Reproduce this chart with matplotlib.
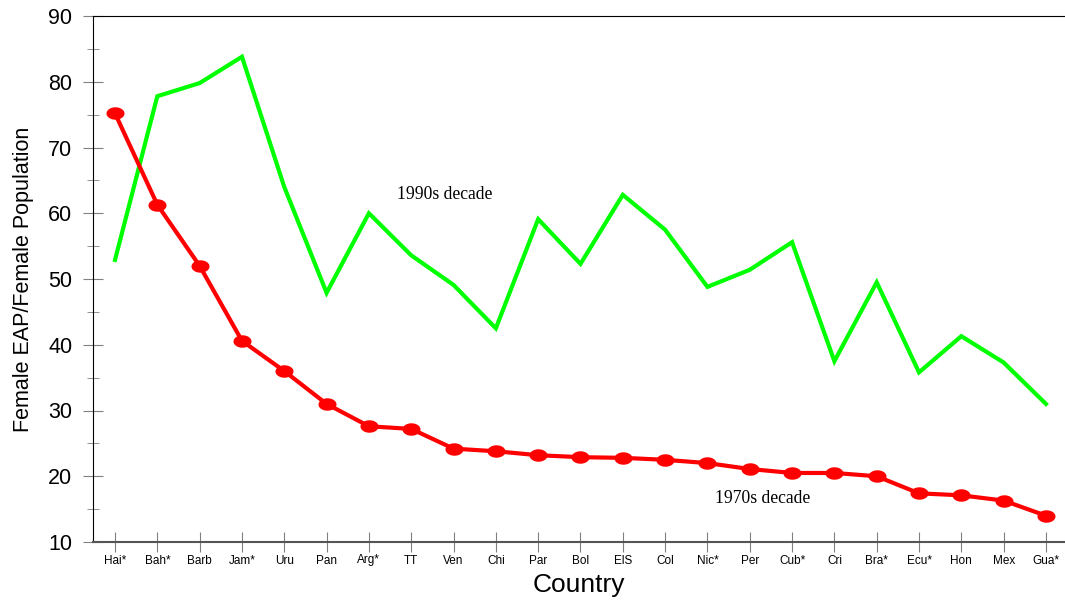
import numpy as np
import matplotlib
matplotlib.use("Agg")
import matplotlib.pyplot as plt
from matplotlib.path import Path
from matplotlib.ticker import MultipleLocator

countries = ["Hai*", "Bah*", "Barb", "Jam*", "Uru", "Pan", "Arg*", "TT", "Ven", "Chi",
             "Par", "Bol", "ElS", "Col", "Nic*", "Per", "Cub*", "Cri", "Bra*", "Ecu*",
             "Hon", "Mex", "Gua*"]
decade_1970s = [75.2, 61.3, 52.0, 40.6, 36.0, 31.0, 27.6, 27.2, 24.2, 23.8,
                23.2, 22.9, 22.8, 22.5, 22.0, 21.1, 20.5, 20.5, 20.0, 17.4,
                17.1, 16.3, 14.0]
decade_1990s = [52.9, 77.8, 79.8, 83.8, 64.0, 47.9, 60.0, 53.6, 49.1, 42.5,
                59.1, 52.3, 62.8, 57.5, 48.8, 51.4, 55.6, 37.5, 49.5, 35.8,
                41.3, 37.3, 31.0]

plt.rcParams['font.family'] = ['Liberation Sans', 'DejaVu Sans']

fig = plt.figure(figsize=(10.65, 6.0), dpi=100)
ax = fig.add_axes([93/1065, 1-542/600, 1-93/1065, (542-16)/600])

x = np.arange(len(countries))

# elliptical marker
t = np.linspace(0, 2*np.pi, 40)
ell = Path(np.column_stack([1.45*np.cos(t), np.sin(t)]), closed=True)

ax.plot(x, decade_1990s, color='#00ff00', lw=3.0, solid_joinstyle='miter', zorder=3)
ax.plot(x, decade_1970s, color='#ff0000', lw=3.0, marker=ell, markersize=13,
        markeredgewidth=0, zorder=4)

ax.set_xlim(-0.52, 22.45)
ax.set_ylim(10, 90)
ax.set_xticks(x)
ax.set_xticklabels(countries, fontsize=8.5)
ax.yaxis.set_major_locator(MultipleLocator(10))
ax.yaxis.set_minor_locator(MultipleLocator(5))
ax.tick_params(axis='y', which='major', direction='inout', length=14, color='#808080',
               labelsize=15.5, pad=8)
ax.tick_params(axis='y', which='minor', direction='inout', length=8, color='#808080')
ax.tick_params(axis='x', which='major', direction='inout', length=14, color='#808080',
               labelsize=8.5, pad=2)

ax.spines['right'].set_visible(False)
ax.spines['top'].set_color('black')
ax.spines['left'].set_color('black')
ax.spines['bottom'].set_color('#555555')
ax.spines['bottom'].set_linewidth(1.5)

ax.set_xlabel("Country", fontsize=19, labelpad=5)
ax.set_ylabel("Female EAP/Female Population", fontsize=15.5, labelpad=10)

ax.text(7.8, 62.9, "1990s decade", family='Liberation Serif', fontsize=12.7,
        ha='center', va='center')
ax.text(15.3, 16.6, "1970s decade", family='Liberation Serif', fontsize=12.7,
        ha='center', va='center')

fig.savefig("out.png", dpi=100)
